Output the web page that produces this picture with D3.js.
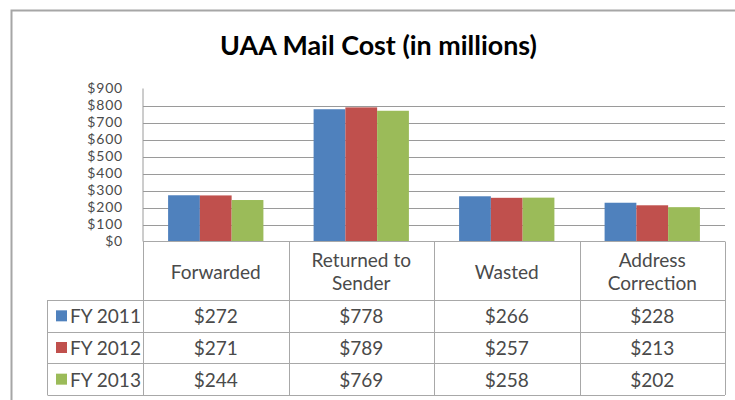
<!DOCTYPE html>
<html>
<head>
<meta charset="utf-8">
<script src="https://cdn.jsdelivr.net/npm/d3@7"></script>
<style>
	body { margin: 0; background: #fff; }
	svg { display: block; }
</style>
</head>
<body>
<svg id="chart" width="735" height="400"></svg>
<script>
// data
var categories = ["Forwarded", "Returned to Sender", "Wasted", "Address Correction"];
var categoryLines = [["Forwarded"], ["Returned to", "Sender"], ["Wasted"], ["Address", "Correction"]];
var seriesNames = ["FY 2011", "FY 2012", "FY 2013"];
var fy2011 = [272, 778, 266, 228];
var fy2012 = [271, 789, 257, 213];
var fy2013 = [244, 769, 258, 202];
var yTicks = [0, 100, 200, 300, 400, 500, 600, 700, 800, 900];

var seriesValues = [fy2011, fy2012, fy2013];
var colors = ["#4F81BD", "#C0504D", "#9BBB59"];

var svg = d3.select("#chart"),
	margin = {top: 88.5, left: 143, right: 725, bottom: 241.5},
	tableTop = 300, tableBottom = 395, legendLeft = 47.5;

var font = "Lato, 'Open Sans', sans-serif";
var gridColor = "#9a9a9a", tableColor = "#a8a8a8", textColor = "#4a4a4a";

// outer chart border (top and left visible)
svg.append("path")
	.attr("d", "M11.5,400V10.5H735")
	.attr("fill", "none")
	.attr("stroke", "#a6a6a6")
	.attr("stroke-width", 2);

var x0 = d3.scaleBand()
	.domain(categories)
	.range([margin.left, margin.right])
	.padding(0);

var x1 = d3.scaleBand()
	.domain(seriesNames)
	.range([0, x0.bandwidth()])
	.paddingInner(0)
	.paddingOuter(0.79);

var y = d3.scaleLinear()
	.domain([0, 900])
	.range([margin.bottom, margin.top]);

var rows = d3.scaleBand()
	.domain(seriesNames)
	.range([tableTop, tableBottom]);

// fit a font size so that a sample string gets a given width
function fitSize(sample, target, weight) {
	var t = svg.append("text").style("font-family", font).style("font-size", "20px")
		.style("font-weight", weight || "normal").text(sample);
	var w = t.node().getComputedTextLength();
	t.remove();
	return 20 * target / w;
}

// title
var titleSize = fitSize("UAA Mail Cost (in millions)", 317, "bold");
svg.append("text")
	.attr("x", 378.5)
	.attr("y", 55)
	.attr("text-anchor", "middle")
	.style("font-family", font)
	.style("font-weight", "bold")
	.style("font-size", titleSize + "px")
	.attr("fill", "#000")
	.text("UAA Mail Cost (in millions)");

// gridlines
svg.append("g")
	.selectAll("line")
	.data(yTicks.filter(d => d > 0 && d < 900))
	.enter().append("line")
	.attr("x1", margin.left)
	.attr("x2", margin.right)
	.attr("y1", d => Math.round(y(d)) + 0.5)
	.attr("y2", d => Math.round(y(d)) + 0.5)
	.attr("stroke", gridColor)
	.attr("stroke-width", 1);

// y axis labels
var yAxis = svg.append("g")
	.attr("transform", `translate(${margin.left},0)`)
	.call(d3.axisLeft(y).tickValues(yTicks).tickSize(0).tickPadding(20).tickFormat(d => "$" + d));
yAxis.select(".domain").remove();
yAxis.selectAll("text")
	.style("font-family", font)
	.style("font-size", "14px")
	.style("letter-spacing", "0.8px")
	.attr("fill", textColor);

// bars
var groups = svg.append("g")
	.selectAll("g")
	.data(seriesNames)
	.enter().append("g")
	.attr("fill", (d, i) => colors[i]);

groups.selectAll("rect")
	.data((s, i) => categories.map((c, j) => ({cat: c, series: s, value: seriesValues[i][j]})))
	.enter().append("rect")
	.attr("x", d => x0(d.cat) + x1(d.series))
	.attr("width", x1.bandwidth())
	.attr("y", d => y(d.value))
	.attr("height", d => y(0) - y(d.value));

// y axis line
svg.append("line")
	.attr("x1", margin.left).attr("x2", margin.left)
	.attr("y1", margin.top).attr("y2", margin.bottom)
	.attr("stroke", gridColor);

// data table lines
var table = svg.append("g").attr("stroke", tableColor).attr("stroke-width", 1);
table.append("line")
	.attr("x1", margin.left).attr("x2", margin.right)
	.attr("y1", margin.bottom).attr("y2", margin.bottom);
table.selectAll(".hrow")
	.data(seriesNames.map(s => rows(s)).concat([tableBottom]))
	.enter().append("line")
	.attr("x1", legendLeft).attr("x2", margin.right)
	.attr("y1", d => Math.round(d) + 0.5).attr("y2", d => Math.round(d) + 0.5);
table.selectAll(".vcol")
	.data(categories.map(c => x0(c)).concat([margin.right]))
	.enter().append("line")
	.attr("x1", d => Math.round(d) + 0.5).attr("x2", d => Math.round(d) + 0.5)
	.attr("y1", margin.bottom).attr("y2", tableBottom);
table.append("line")
	.attr("x1", legendLeft).attr("x2", legendLeft)
	.attr("y1", tableTop).attr("y2", tableBottom);

var cellSize = fitSize("Forwarded", 90);

// category headers
svg.append("g")
	.selectAll("text")
	.data(categories)
	.enter().append("text")
	.attr("x", d => x0(d) + x0.bandwidth() / 2)
	.attr("y", (d, i) => (margin.bottom + tableTop) / 2 - (categoryLines[i].length - 1) * 11.5)
	.attr("text-anchor", "middle")
	.attr("dominant-baseline", "central")
	.style("font-family", font)
	.style("font-size", cellSize + "px")
	.attr("fill", textColor)
	.each(function(d, i) {
		var t = d3.select(this);
		categoryLines[i].forEach((line, k) => {
			t.append("tspan")
				.attr("x", x0(d) + x0.bandwidth() / 2)
				.attr("dy", k === 0 ? 0 : 23)
				.text(line);
		});
	});

// legend column
var legend = svg.append("g")
	.selectAll("g")
	.data(seriesNames)
	.enter().append("g")
	.attr("transform", d => `translate(0,${rows(d) + rows.bandwidth() / 2})`);
legend.append("rect")
	.attr("x", 56)
	.attr("y", -5.5)
	.attr("width", 11)
	.attr("height", 11)
	.attr("fill", (d, i) => colors[i]);
legend.append("text")
	.attr("x", 70)
	.attr("dominant-baseline", "central")
	.style("font-family", font)
	.style("font-size", cellSize + "px")
	.attr("fill", textColor)
	.text(d => d);

// values in the table
svg.append("g")
	.selectAll("g")
	.data(seriesNames)
	.enter().append("g")
	.selectAll("text")
	.data((s, i) => categories.map((c, j) => ({cat: c, series: s, value: seriesValues[i][j]})))
	.enter().append("text")
	.attr("x", d => x0(d.cat) + x0.bandwidth() / 2)
	.attr("y", d => rows(d.series) + rows.bandwidth() / 2)
	.attr("text-anchor", "middle")
	.attr("dominant-baseline", "central")
	.style("font-family", font)
	.style("font-size", cellSize + "px")
	.attr("fill", textColor)
	.text(d => "$" + d.value);
</script>
</body>
</html>
